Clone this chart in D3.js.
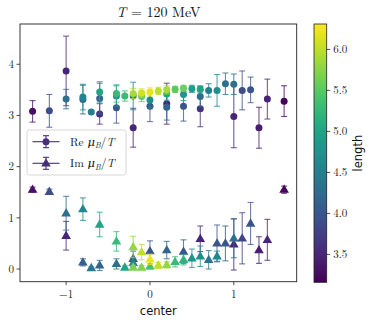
<!DOCTYPE html>
<html><head><meta charset="utf-8">
<script src="https://cdn.jsdelivr.net/npm/d3@7"></script>
<style>body{margin:0;background:#fff}svg{display:block}</style>
</head><body><svg id="c" width="374" height="325"></svg>
<script>
// ---- data ----
const reCenter = [-1.4,-1.2,-1.0,-1.0,-0.8,-0.8,-0.7,-0.6,-0.6,-0.6,-0.4,-0.4,-0.4,-0.3,-0.2,-0.2,-0.2,-0.1,-0.1,0,0,0,0.1,0.2,0.2,0.2,0.2,0.3,0.4,0.4,0.4,0.5,0.6,0.6,0.6,0.7,0.8,0.9,1.0,1.0,1.1,1.2,1.3,1.4,1.6];
const reValue  = [3.08,3.09,3.87,3.32,3.36,3.31,3.07,3.46,3.33,3.03,3.43,3.38,3.15,3.38,3.43,3.38,2.76,3.44,3.37,3.46,3.30,3.18,3.48,3.50,3.42,3.23,3.16,3.51,3.53,3.41,3.18,3.52,3.51,3.37,3.13,3.49,3.49,3.62,3.61,2.98,3.49,3.50,2.76,3.32,3.28];
const reError  = [0.21,0.32,0.68,0.19,0.25,0.28,0.03,0.20,0.30,0.20,0.17,0.20,0.30,0.10,0.10,0.27,0.38,0.08,0.10,0.08,0.15,0.30,0.07,0.08,0.12,0.40,0.25,0.06,0.06,0.12,0.29,0.07,0.07,0.20,0.35,0.13,0.31,0.21,0.20,0.61,0.38,0.25,0.40,0.39,0.30];
const reLength = [3.3,3.9,3.5,4.3,4.6,4.2,4.5,5.0,4.2,3.6,5.3,4.7,4.0,5.3,5.9,4.6,3.5,6.1,5.5,6.2,4.7,4.0,6.0,5.9,5.0,3.5,4.2,5.5,5.6,4.8,4.0,4.9,5.0,4.3,3.6,4.5,4.7,4.3,4.3,3.5,3.9,4.0,3.4,3.5,3.2];

const imCenter = [-1.4,-1.2,-1.0,-1.0,-0.8,-0.8,-0.7,-0.6,-0.6,-0.4,-0.4,-0.3,-0.2,-0.2,-0.2,-0.2,-0.1,-0.1,0,0,0,0.1,0.2,0.2,0.3,0.4,0.4,0.5,0.6,0.6,0.7,0.8,0.8,0.9,1.0,1.0,1.1,1.2,1.3,1.4,1.6];
const imValue  = [1.55,1.51,1.09,0.65,1.17,0.13,0.02,0.87,0.07,0.54,0.10,0.03,0.43,0.20,0.12,0.03,0.33,0.03,0.35,0.19,0.05,0.07,0.37,0.08,0.14,0.34,0.18,0.21,0.59,0.25,0.18,0.50,0.25,0.50,0.60,0.48,0.60,0.89,0.37,0.57,1.55];
const imError  = [0.05,0.05,0.33,0.28,0.22,0.07,0.02,0.24,0.10,0.19,0.10,0.03,0.21,0.15,0.10,0.04,0.15,0.04,0.20,0.10,0.05,0.06,0.17,0.06,0.10,0.23,0.10,0.18,0.25,0.20,0.18,0.36,0.10,0.34,0.38,0.50,0.50,0.41,0.26,0.40,0.07];
const imLength = [3.3,3.9,4.3,3.5,4.6,4.1,4.4,5.0,4.2,5.3,4.3,5.0,5.8,4.0,4.6,5.7,6.0,5.7,4.0,6.2,5.4,6.0,4.2,5.8,5.3,4.0,5.2,4.8,3.5,4.7,4.4,4.0,4.6,4.0,4.3,3.5,3.8,4.0,3.4,3.5,3.2];

const yTicks = [0,1,2,3,4];
const xTicks = [-1,0,1];
const cTicks = [3.5,4.0,4.5,5.0,5.5,6.0];
const lengthRange = [3.16, 6.31];
const seriesNames = ["Re", "Im"];

// ---- layout ----
const svg = d3.select("#c");
const L = 20, R = 296.7, T = 24, B = 281.7;
const x = d3.scaleLinear().domain([-1.55, 1.75]).range([L, R]);
const y = d3.scaleLinear().domain([-0.248, 4.787]).range([B, T]);
const color = d3.scaleSequential(d3.interpolateViridis).domain(lengthRange);
const serif = "'Latin Modern Roman','CMU Serif','DejaVu Serif',serif";
const sans = "'DejaVu Sans',sans-serif";

svg.append("defs").append("clipPath").attr("id","clip")
  .append("rect").attr("x",L).attr("y",T).attr("width",R-L).attr("height",B-T);

function build(cs, vs, es, ls, kind){
  return cs.map((c,i)=>({c, v:vs[i], e:es[i], l:ls[i], kind}));
}
const all = build(reCenter,reValue,reError,reLength,"Re").concat(build(imCenter,imValue,imError,imLength,"Im"));
all.sort((a,b)=>a.l-b.l);

const plot = svg.append("g").attr("clip-path","url(#clip)");
const tri = d3.symbol().type(d3.symbolTriangle).size(40);

all.forEach(d=>{
  const g = plot.append("g");
  const col = color(d.l);
  const cx = x(d.c);
  g.append("line").attr("x1",cx).attr("x2",cx).attr("y1",y(d.v-d.e)).attr("y2",y(d.v+d.e))
    .attr("stroke",col).attr("stroke-width",1.1).attr("opacity",0.75);
  [d.v-d.e, d.v+d.e].forEach(v=>{
    g.append("line").attr("x1",cx-3).attr("x2",cx+3).attr("y1",y(v)).attr("y2",y(v))
      .attr("stroke",col).attr("stroke-width",1.1).attr("opacity",0.75);
  });
  if(d.kind==="Re"){
    g.append("circle").attr("cx",cx).attr("cy",y(d.v)).attr("r",3.5).attr("fill",col);
  } else {
    g.append("path").attr("d",tri).attr("transform",`translate(${cx},${y(d.v)+0.4})`).attr("fill",col);
  }
});

svg.append("rect").attr("x",L).attr("y",T).attr("width",R-L).attr("height",B-T)
  .attr("fill","none").attr("stroke","#222").attr("stroke-width",0.9);

yTicks.forEach(t=>{
  const yy = y(t);
  svg.append("line").attr("x1",L-3.5).attr("x2",L).attr("y1",yy).attr("y2",yy).attr("stroke","#222").attr("stroke-width",0.8);
  svg.append("text").attr("x",L-6).attr("y",yy+3.8).attr("text-anchor","end")
    .attr("font-family",serif).attr("font-size",11).attr("fill","#222").text(t);
});
xTicks.forEach(t=>{
  const xx = x(t);
  svg.append("line").attr("x1",xx).attr("x2",xx).attr("y1",B).attr("y2",B+3.5).attr("stroke","#222").attr("stroke-width",0.8);
  svg.append("text").attr("x",xx).attr("y",B+16.5).attr("text-anchor","middle")
    .attr("font-family",serif).attr("font-size",11).attr("fill","#222").text(t<0?"\u2212"+Math.abs(t):t);
});
svg.append("text").attr("x",(L+R)/2).attr("y",315).attr("text-anchor","middle")
  .attr("font-family",sans).attr("font-size",11.5).attr("fill","#111").text("center");

const title = svg.append("text").attr("x",(L+R)/2).attr("y",17).attr("text-anchor","middle")
  .attr("font-family",serif).attr("font-size",14).attr("fill","#111");
title.append("tspan").attr("font-style","italic").text("T");
title.append("tspan").text(" = 120 MeV");

const lg = svg.append("g");
lg.append("rect").attr("x",27).attr("y",130).attr("width",99).attr("height",45).attr("rx",2.5)
  .attr("fill","#fff").attr("fill-opacity",0.8).attr("stroke","#ccc").attr("stroke-width",0.8);
const legCol = "#472f7d";
[["Re",141.7],["Im",163.3]].forEach(([k,yy],i)=>{
  lg.append("line").attr("x1",32.5).attr("x2",59.5).attr("y1",yy).attr("y2",yy).attr("stroke",legCol).attr("stroke-width",1.1);
  lg.append("line").attr("x1",46).attr("x2",46).attr("y1",yy-6).attr("y2",yy+6).attr("stroke",legCol).attr("stroke-width",1.1);
  [yy-6,yy+6].forEach(v=>lg.append("line").attr("x1",43).attr("x2",49).attr("y1",v).attr("y2",v).attr("stroke",legCol).attr("stroke-width",1.1));
  if(k==="Re") lg.append("circle").attr("cx",46).attr("cy",yy).attr("r",3.5).attr("fill",legCol);
  else lg.append("path").attr("d",tri).attr("transform",`translate(46,${yy+0.4})`).attr("fill",legCol);
  const t = lg.append("text").attr("x",70).attr("y",yy+4).attr("font-family",serif).attr("font-size",11.5).attr("fill","#111");
  t.append("tspan").text(seriesNames[i]+" ");
  t.append("tspan").attr("font-style","italic").text("\u03bc");
  t.append("tspan").attr("font-style","italic").attr("font-size",8).attr("dy",2.5).text("B");
  t.append("tspan").attr("dy",-2.5).text("/");
  t.append("tspan").attr("font-style","italic").text("T");
});

const cbX = 314, cbW = 12.7, cbT = 24, cbB = 282.3;
const cy = d3.scaleLinear().domain(lengthRange).range([cbB, cbT]);
const grad = svg.select("defs").append("linearGradient").attr("id","vir").attr("x1",0).attr("x2",0).attr("y1",1).attr("y2",0);
d3.range(0,1.0001,0.05).forEach(s=>grad.append("stop").attr("offset",s).attr("stop-color",d3.interpolateViridis(s)));
svg.append("rect").attr("x",cbX).attr("y",cbT).attr("width",cbW).attr("height",cbB-cbT).attr("fill","url(#vir)")
  .attr("stroke","#222").attr("stroke-width",0.8);
cTicks.forEach(t=>{
  const yy = cy(t);
  svg.append("line").attr("x1",cbX+cbW).attr("x2",cbX+cbW+3.5).attr("y1",yy).attr("y2",yy).attr("stroke","#222").attr("stroke-width",0.8);
  svg.append("text").attr("x",cbX+cbW+6.5).attr("y",yy+3.8).attr("font-family",serif).attr("font-size",11).attr("fill","#222").text(t.toFixed(1));
});
svg.append("text").attr("transform",`translate(362,${(cbT+cbB)/2}) rotate(-90)`).attr("text-anchor","middle")
  .attr("font-family",sans).attr("font-size",11.5).attr("fill","#111").text("length");
</script></body></html>
